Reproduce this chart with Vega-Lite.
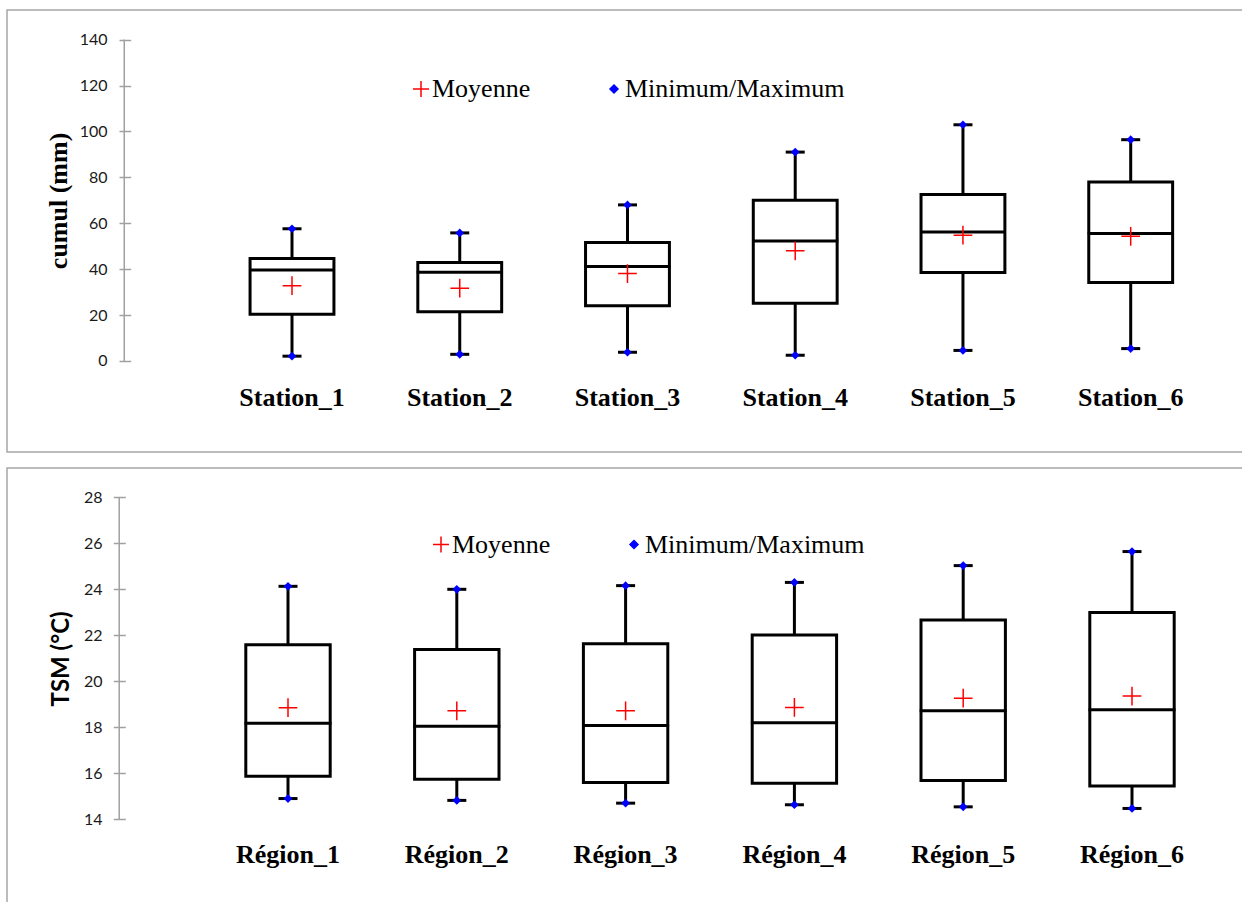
{
  "$schema": "https://vega.github.io/schema/vega-lite/v6.json",
  "background": "white",
  "autosize": {"type": "none"},
  "padding": {"left": 7, "top": 10, "right": 1235, "bottom": 892},
  "spacing": 14,
  "config": {
    "view": {"stroke": "#a6a6a6", "strokeWidth": 1.5},
    "legend": {"orient": "none"}
  },
  "datasets": {
    "stations": [
      {"name": "Station_1", "min": 2.1, "q1": 20.4, "median": 39.6, "q3": 44.6, "max": 57.6, "mean": 32.8},
      {"name": "Station_2", "min": 2.9, "q1": 21.4, "median": 38.7, "q3": 42.9, "max": 55.8, "mean": 31.7},
      {"name": "Station_3", "min": 3.8, "q1": 24.1, "median": 41.2, "q3": 51.6, "max": 68.0, "mean": 38.1},
      {"name": "Station_4", "min": 2.5, "q1": 25.1, "median": 52.3, "q3": 70.0, "max": 91.0, "mean": 48.0},
      {"name": "Station_5", "min": 4.6, "q1": 38.6, "median": 56.2, "q3": 72.5, "max": 102.9, "mean": 54.8},
      {"name": "Station_6", "min": 5.4, "q1": 34.2, "median": 55.5, "q3": 78.0, "max": 96.4, "mean": 54.3}
    ],
    "regions": [
      {"name": "Région_1", "min": 14.91, "q1": 15.88, "median": 18.18, "q3": 21.59, "max": 24.13, "mean": 18.86},
      {"name": "Région_2", "min": 14.83, "q1": 15.75, "median": 18.05, "q3": 21.38, "max": 24.0, "mean": 18.72},
      {"name": "Région_3", "min": 14.71, "q1": 15.61, "median": 18.08, "q3": 21.63, "max": 24.16, "mean": 18.72},
      {"name": "Région_4", "min": 14.64, "q1": 15.58, "median": 18.2, "q3": 22.02, "max": 24.3, "mean": 18.87},
      {"name": "Région_5", "min": 14.55, "q1": 15.69, "median": 18.72, "q3": 22.67, "max": 25.03, "mean": 19.27},
      {"name": "Région_6", "min": 14.48, "q1": 15.45, "median": 18.77, "q3": 22.99, "max": 25.64, "mean": 19.36}
    ]
  },
  "resolve": {
    "scale": {"x": "independent", "y": "independent", "color": "independent", "shape": "independent"},
    "legend": {"color": "independent", "shape": "independent"}
  },
  "vconcat": [
    {
      "width": 1300,
      "height": 442,
      "data": {"name": "stations"},
      "encoding": {
        "x": {
          "field": "name", "type": "nominal",
          "scale": {"domain": [" ", "Station_1", "Station_2", "Station_3", "Station_4", "Station_5", "Station_6"], "paddingInner": 0, "paddingOuter": 0.37505, "align": 0.26538, "round": false},
          "axis": {"title": null, "domain": false, "ticks": false, "tickSize": 0, "grid": false, "offset": -47, "labelPadding": 0, "labelBaseline": "alphabetic", "labelAngle": 0, "labelFont": "Liberation Serif", "labelFontSize": 26, "labelFontWeight": "bold", "labelColor": "black", "labelLimit": 400}
        }
      },
      "layer": [
        {
          "mark": {"type": "rule", "color": "black", "strokeWidth": 3, "opacity": 1},
          "encoding": {
            "y": {
              "field": "min", "type": "quantitative", "title": "cumul (mm)",
              "scale": {"domain": [-39.65, 152.9], "nice": false, "zero": false},
              "axis": {"values": [0, 20, 40, 60, 80, 100, 120, 140], "domain": false, "grid": false, "offset": -123.7, "tickSize": 11.7, "tickColor": "#a0a0a0", "tickWidth": 1.5, "labelFont": "Lato", "labelFontSize": 16, "labelColor": "#1a1a1a", "labelPadding": 12, "labelFlush": false, "labelOverlap": false, "titleFont": "Liberation Serif", "titleFontSize": 26, "titleFontWeight": "bold", "titleColor": "black", "titleX": -72, "titleY": 190.4, "titleAngle": -90, "titleBaseline": "middle", "titleAlign": "center"}
            },
            "y2": {"field": "max"}
          }
        },
        {
          "mark": {"type": "bar", "fill": "white", "stroke": "black", "strokeWidth": 3, "width": {"band": 0.5}, "opacity": 1},
          "encoding": {"y": {"field": "q1", "type": "quantitative", "title": "cumul (mm)"}, "y2": {"field": "q3"}}
        },
        {
          "mark": {"type": "tick", "color": "black", "thickness": 3, "size": 86, "orient": "horizontal", "opacity": 1},
          "encoding": {"y": {"field": "median", "type": "quantitative", "title": "cumul (mm)"}}
        },
        {
          "mark": {"type": "tick", "color": "black", "thickness": 3, "size": 19, "orient": "horizontal", "opacity": 1},
          "encoding": {"y": {"field": "min", "type": "quantitative", "title": "cumul (mm)"}}
        },
        {
          "mark": {"type": "tick", "color": "black", "thickness": 3, "size": 19, "orient": "horizontal", "opacity": 1},
          "encoding": {"y": {"field": "max", "type": "quantitative", "title": "cumul (mm)"}}
        },
        {
          "mark": {"type": "point", "filled": true, "size": 300, "opacity": 1},
          "encoding": {
            "y": {"field": "min", "type": "quantitative", "title": "cumul (mm)"},
            "color": {"datum": "Minimum/Maximum"},
            "shape": {"datum": "Minimum/Maximum"}
          }
        },
        {
          "mark": {"type": "point", "filled": true, "size": 300, "opacity": 1},
          "encoding": {
            "y": {"field": "max", "type": "quantitative", "title": "cumul (mm)"},
            "color": {"datum": "Minimum/Maximum"},
            "shape": {"datum": "Minimum/Maximum"}
          }
        },
        {
          "mark": {"type": "point", "filled": false, "size": 350, "strokeWidth": 1.5, "opacity": 1},
          "encoding": {
            "y": {"field": "mean", "type": "quantitative", "title": "cumul (mm)"},
            "color": {
              "datum": "Moyenne",
              "scale": {"domain": ["Moyenne", "Minimum/Maximum"], "range": ["#ff0000", "#0000ff"]},
              "legend": {"orient": "none", "legendX": 401, "legendY": 66, "direction": "horizontal", "title": null, "padding": 0, "labelFont": "Liberation Serif", "labelFontSize": 26, "labelColor": "black", "labelOffset": -2, "labelLimit": 400, "columnPadding": 70, "symbolSize": 256, "symbolStrokeWidth": 1.5,
                "encode": {"symbols": {"update": {
                  "fill": {"signal": "datum.value === 'Moyenne' ? 'transparent' : '#0000ff'"},
                  "stroke": {"signal": "datum.value === 'Moyenne' ? '#ff0000' : 'transparent'"},
                  "opacity": {"value": 1}
                }}}
              }
            },
            "shape": {
              "datum": "Moyenne",
              "scale": {"domain": ["Moyenne", "Minimum/Maximum"], "range": ["M-1,0H1M0,-1V1", "M0,-0.5L0.5,0L0,0.5L-0.5,0Z"]},
              "legend": {"orient": "none", "legendX": 401, "legendY": 66, "direction": "horizontal", "title": null}
            }
          }
        },
        {
          "data": {"values": [{}]},
          "mark": {"type": "rule", "color": "#a0a0a0", "strokeWidth": 1.5, "opacity": 1},
          "encoding": {
            "x": {"datum": " ", "type": "nominal"},
            "y": {"datum": 0, "type": "quantitative", "title": "cumul (mm)"},
            "y2": {"datum": 140}
          }
        }
      ]
    },
    {
      "width": 1300,
      "height": 445,
      "data": {"name": "regions"},
      "encoding": {
        "x": {
          "field": "name", "type": "nominal",
          "scale": {"domain": [" ", "Région_1", "Région_2", "Région_3", "Région_4", "Région_5", "Région_6"], "paddingInner": 0, "paddingOuter": 0.35071, "align": 0.2348, "round": false},
          "axis": {"title": null, "domain": false, "ticks": false, "tickSize": 0, "grid": false, "offset": -50.5, "labelPadding": 0, "labelBaseline": "alphabetic", "labelAngle": 0, "labelFont": "Liberation Serif", "labelFontSize": 26, "labelFontWeight": "bold", "labelColor": "black", "labelLimit": 400}
        }
      },
      "layer": [
        {
          "mark": {"type": "rule", "color": "black", "strokeWidth": 3, "opacity": 1},
          "encoding": {
            "y": {
              "field": "min", "type": "quantitative", "title": "TSM (°C)",
              "scale": {"domain": [9.938, 29.27], "nice": false, "zero": false},
              "axis": {"values": [14, 16, 18, 20, 22, 24, 26, 28], "domain": false, "grid": false, "offset": -118.3, "tickSize": 12, "tickColor": "#a0a0a0", "tickWidth": 1.5, "labelFont": "Lato", "labelFontSize": 16, "labelColor": "#1a1a1a", "labelPadding": 11.3, "labelFlush": false, "labelOverlap": false, "titleFont": "Lato", "titleFontSize": 24, "titleFontWeight": "bold", "titleColor": "black", "titleX": -64.3, "titleY": 190.4, "titleAngle": -90, "titleBaseline": "middle", "titleAlign": "center"}
            },
            "y2": {"field": "max"}
          }
        },
        {
          "mark": {"type": "bar", "fill": "white", "stroke": "black", "strokeWidth": 3, "width": {"band": 0.5}, "opacity": 1},
          "encoding": {"y": {"field": "q1", "type": "quantitative", "title": "TSM (°C)"}, "y2": {"field": "q3"}}
        },
        {
          "mark": {"type": "tick", "color": "black", "thickness": 3, "size": 87, "orient": "horizontal", "opacity": 1},
          "encoding": {"y": {"field": "median", "type": "quantitative", "title": "TSM (°C)"}}
        },
        {
          "mark": {"type": "tick", "color": "black", "thickness": 3, "size": 19, "orient": "horizontal", "opacity": 1},
          "encoding": {"y": {"field": "min", "type": "quantitative", "title": "TSM (°C)"}}
        },
        {
          "mark": {"type": "tick", "color": "black", "thickness": 3, "size": 19, "orient": "horizontal", "opacity": 1},
          "encoding": {"y": {"field": "max", "type": "quantitative", "title": "TSM (°C)"}}
        },
        {
          "mark": {"type": "point", "filled": true, "size": 300, "opacity": 1},
          "encoding": {
            "y": {"field": "min", "type": "quantitative", "title": "TSM (°C)"},
            "color": {"datum": "Minimum/Maximum"},
            "shape": {"datum": "Minimum/Maximum"}
          }
        },
        {
          "mark": {"type": "point", "filled": true, "size": 300, "opacity": 1},
          "encoding": {
            "y": {"field": "max", "type": "quantitative", "title": "TSM (°C)"},
            "color": {"datum": "Minimum/Maximum"},
            "shape": {"datum": "Minimum/Maximum"}
          }
        },
        {
          "mark": {"type": "point", "filled": false, "size": 350, "strokeWidth": 1.5, "opacity": 1},
          "encoding": {
            "y": {"field": "mean", "type": "quantitative", "title": "TSM (°C)"},
            "color": {
              "datum": "Moyenne",
              "scale": {"domain": ["Moyenne", "Minimum/Maximum"], "range": ["#ff0000", "#0000ff"]},
              "legend": {"orient": "none", "legendX": 421, "legendY": 63.5, "direction": "horizontal", "title": null, "padding": 0, "labelFont": "Liberation Serif", "labelFontSize": 26, "labelColor": "black", "labelOffset": -2, "labelLimit": 400, "columnPadding": 70, "symbolSize": 256, "symbolStrokeWidth": 1.5,
                "encode": {"symbols": {"update": {
                  "fill": {"signal": "datum.value === 'Moyenne' ? 'transparent' : '#0000ff'"},
                  "stroke": {"signal": "datum.value === 'Moyenne' ? '#ff0000' : 'transparent'"},
                  "opacity": {"value": 1}
                }}}
              }
            },
            "shape": {
              "datum": "Moyenne",
              "scale": {"domain": ["Moyenne", "Minimum/Maximum"], "range": ["M-1,0H1M0,-1V1", "M0,-0.5L0.5,0L0,0.5L-0.5,0Z"]},
              "legend": {"orient": "none", "legendX": 421, "legendY": 63.5, "direction": "horizontal", "title": null}
            }
          }
        },
        {
          "data": {"values": [{}]},
          "mark": {"type": "rule", "color": "#a0a0a0", "strokeWidth": 1.5, "opacity": 1},
          "encoding": {
            "x": {"datum": " ", "type": "nominal"},
            "y": {"datum": 14, "type": "quantitative", "title": "TSM (°C)"},
            "y2": {"datum": 28}
          }
        }
      ]
    }
  ]
}
